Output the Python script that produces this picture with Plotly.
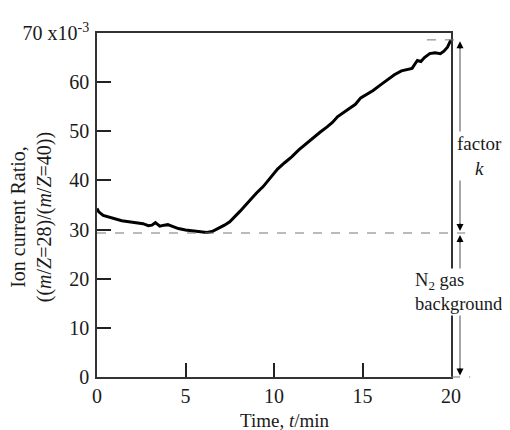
import plotly.graph_objects as go

# ---- data ----
time_min = [0, 0.1, 0.35, 0.7, 1.0, 1.4, 1.8, 2.2, 2.6, 2.9, 3.1, 3.3, 3.55, 3.8, 4.0,
            4.3, 4.6, 5.0, 5.4, 5.8, 6.2, 6.5, 6.9, 7.2, 7.5, 7.8, 8.1, 8.4, 8.7, 9.0,
            9.4, 9.8, 10.2, 10.6, 11.0, 11.4, 11.8, 12.2, 12.6, 13.0, 13.3, 13.6, 14.0,
            14.3, 14.6, 14.9, 15.2, 15.6, 16.0, 16.4, 16.8, 17.2, 17.5, 17.8, 18.0, 18.1,
            18.3, 18.5, 18.8, 19.1, 19.4, 19.6, 19.8, 20.0]
ratio_e3 = [34.3, 33.6, 32.9, 32.5, 32.1, 31.8, 31.6, 31.4, 31.2, 30.8, 30.9, 31.4, 30.7,
            30.9, 31.0, 30.6, 30.2, 29.9, 29.7, 29.5, 29.4, 29.6, 30.3, 30.9, 31.6, 32.6,
            33.8, 35.0, 36.3, 37.4, 38.8, 40.6, 42.3, 43.6, 44.8, 46.2, 47.4, 48.7, 49.8,
            50.9, 51.8, 53.0, 54.0, 54.8, 55.5, 56.8, 57.4, 58.3, 59.4, 60.5, 61.5, 62.3,
            62.6, 62.8, 63.9, 64.4, 64.2, 65.0, 65.8, 66.0, 65.8, 66.3, 67.1, 68.6]
background_level = 29.3
final_level = 68.6

x_ticks = [0, 5, 10, 15, 20]
y_ticks = [0, 10, 20, 30, 40, 50, 60, 70]
y_ticktext = ["0", "10", "20", "30", "40", "50", "60", "70 x10<sup>-3</sup>"]

X_MAX, Y_MAX = 20, 70
FONT = "Liberation Serif"
TXT = "#1a1a1a"

def py_(v):
    return v / Y_MAX

fig = go.Figure()
fig.add_trace(go.Scatter(x=time_min, y=ratio_e3, mode="lines",
                         line=dict(color="black", width=3), showlegend=False,
                         hoverinfo="skip"))

shapes = []
dash = dict(color="#777", width=1, dash="dash")
shapes.append(dict(type="line", xref="paper", yref="paper", x0=0, x1=1.04,
                   y0=py_(background_level), y1=py_(background_level), line=dash))
shapes.append(dict(type="line", xref="paper", yref="paper", x0=0.932, x1=1.031,
                   y0=py_(final_level), y1=py_(final_level), line=dash))
shapes.append(dict(type="line", xref="paper", yref="paper", x0=1.0, x1=1.054,
                   y0=py_(0), y1=py_(0), line=dash))
arrow_x = 1.0254
gray = dict(color="#8a8a8a", width=1.5)
shapes.append(dict(type="line", xref="paper", yref="paper", x0=arrow_x, x1=arrow_x,
                   y0=py_(background_level) + 0.012, y1=py_(final_level) - 0.01, line=gray))
shapes.append(dict(type="line", xref="paper", yref="paper", x0=arrow_x, x1=arrow_x,
                   y0=py_(0) + 0.01, y1=py_(background_level) - 0.012, line=gray))

annotations = []
def head(yv, up, off):
    annotations.append(dict(xref="paper", yref="paper", x=arrow_x, y=py_(yv) + off,
                            ax=0, ay=(9 if up else -9), text="", showarrow=True,
                            arrowhead=2, arrowsize=1.4, arrowwidth=1, arrowcolor="black"))
head(final_level, True, -0.004)
head(background_level, False, 0.006)
head(background_level, True, -0.006)
head(0, False, 0.004)

annotations.append(dict(xref="paper", yref="paper", x=1.08, y=0.641,
                        xanchor="center", yanchor="middle",
                        text="factor<br><i>k</i>", showarrow=False, bgcolor="white",
                        font=dict(family=FONT, size=19, color=TXT), align="center"))
annotations.append(dict(xref="paper", yref="paper", x=0.893, y=0.246,
                        xanchor="left", yanchor="middle",
                        text="N<sub>2</sub> gas<br>background", showarrow=False,
                        bgcolor="white", align="left", borderpad=1,
                        font=dict(family=FONT, size=18.5, color=TXT)))
annotations.append(dict(xref="paper", yref="paper", x=0.531, y=-0.125,
                        xanchor="center", yanchor="middle",
                        text="Time, <i>t</i>/min", showarrow=False,
                        font=dict(family=FONT, size=19, color=TXT)))
annotations.append(dict(xref="paper", yref="paper", x=-0.185, y=0.463, textangle=-90,
                        xanchor="center", yanchor="middle",
                        text="Ion current Ratio,<br>((<i>m</i>/<i>Z</i>=28)/(<i>m</i>/<i>Z</i>=40))",
                        showarrow=False, font=dict(family=FONT, size=20, color=TXT)))

axis_common = dict(showgrid=False, zeroline=False, showline=True, linecolor="#333",
                   linewidth=1.5, mirror=True, ticks="inside", ticklen=14, tickwidth=1.5,
                   tickcolor="#222", tickfont=dict(family=FONT, size=20, color=TXT))

# the page shows the figure with an 8 px body margin, so the canvas is sized to fit
fig.update_layout(
    width=494, height=422,
    margin=dict(l=89, r=51, t=15, b=53),
    paper_bgcolor="white", plot_bgcolor="white",
    xaxis=dict(range=[0, X_MAX], tickvals=x_ticks, ticktext=[str(v) for v in x_ticks],
               **axis_common),
    yaxis=dict(range=[0, Y_MAX], tickvals=y_ticks, ticktext=y_ticktext,
               ticklabelstandoff=2, **axis_common),
    shapes=shapes, annotations=annotations,
)

fig.write_html("out.html", config={"displayModeBar": False})
